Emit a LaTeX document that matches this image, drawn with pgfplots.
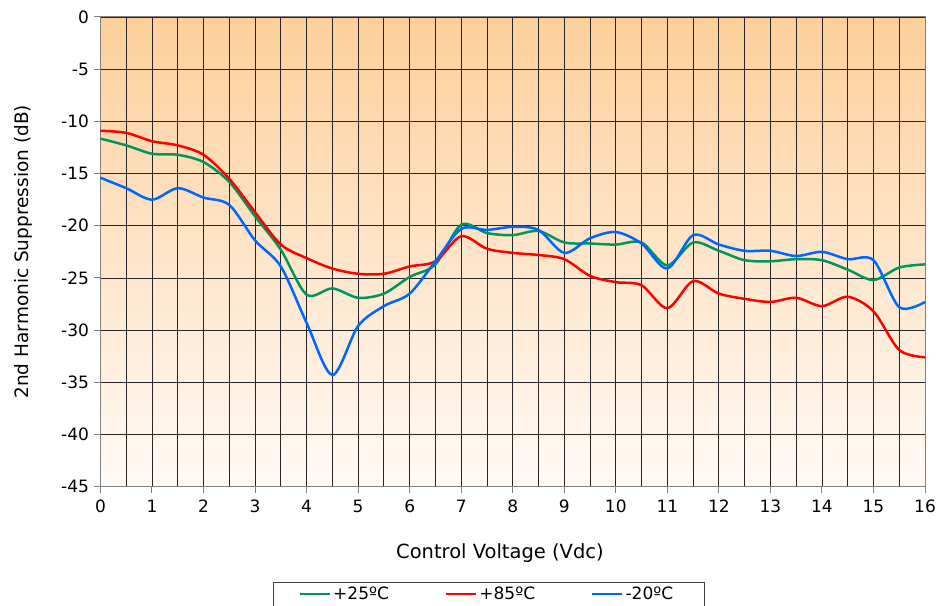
\documentclass[border=0pt]{standalone}
\usepackage{fontspec}
\setmainfont{DejaVu Sans}
\usepackage{pgfplots}
\pgfplotsset{compat=1.18}
\definecolor{cgreen}{RGB}{0,150,90}
\definecolor{cred}{RGB}{255,0,0}
\definecolor{cblue}{RGB}{0,102,255}
\definecolor{bgtop}{RGB}{253,207,155}
\definecolor{bgbot}{RGB}{255,250,246}
\newcommand{\fs}{\fontsize{17}{20}\selectfont}
\pgfplotstableread{
x y
0 -11.65
0.5 -12.3
1 -13.1
1.5 -13.2
2 -13.9
2.5 -15.8
3 -19.1
3.5 -22.3
4 -26.6
4.5 -26.0
5 -26.9
5.5 -26.5
6 -24.9
6.5 -23.7
7 -19.9
7.5 -20.7
8 -20.9
8.5 -20.5
9 -21.6
9.5 -21.7
10 -21.8
10.5 -21.6
11 -23.8
11.5 -21.6
12 -22.4
12.5 -23.3
13 -23.4
13.5 -23.2
14 -23.3
14.5 -24.2
15 -25.2
15.5 -24.0
16 -23.7
}\tgreen
\pgfplotstableread{
x y
0 -10.9
0.5 -11.1
1 -11.9
1.5 -12.3
2 -13.2
2.5 -15.5
3 -18.7
3.5 -21.8
4 -23.1
4.5 -24.1
5 -24.6
5.5 -24.6
6 -23.9
6.5 -23.4
7 -21.0
7.5 -22.2
8 -22.6
8.5 -22.8
9 -23.2
9.5 -24.8
10 -25.4
10.5 -25.7
11 -27.9
11.5 -25.3
12 -26.5
12.5 -27.0
13 -27.3
13.5 -26.9
14 -27.7
14.5 -26.8
15 -28.2
15.5 -31.9
16 -32.6
}\tred
\pgfplotstableread{
x y
0 -15.4
0.5 -16.4
1 -17.5
1.5 -16.4
2 -17.3
2.5 -18.0
3 -21.4
3.5 -23.9
4 -29.3
4.5 -34.3
5 -29.6
5.5 -27.7
6 -26.5
6.5 -23.4
7 -20.3
7.5 -20.4
8 -20.1
8.5 -20.4
9 -22.6
9.5 -21.2
10 -20.6
10.5 -21.7
11 -24.1
11.5 -20.9
12 -21.8
12.5 -22.4
13 -22.4
13.5 -22.9
14 -22.5
14.5 -23.2
15 -23.3
15.5 -27.8
16 -27.3
}\tblue
\begin{document}
\begin{tikzpicture}
\begin{axis}[
  name=ax,
  scale only axis,
  width=825pt, height=470pt,
  xmin=0, xmax=16, ymin=-45, ymax=0,
  xtick={0,1,...,16},
  ytick={-45,-40,...,0},
  minor x tick num=1,
  minor tick length=0pt,
  xmajorgrids, xminorgrids, ymajorgrids,
  grid style={black!85, line width=0.8pt},
  minor grid style={black!85, line width=0.8pt},
  axis line style={draw=black!50, line width=1pt},
  tick align=outside,
  major tick length=6pt,
  tick style={draw=black!50, line width=1pt},
  xtick pos=bottom, ytick pos=left,
  /pgf/number format/assume math mode=true,
  tick label style={font=\fs},
  xticklabel style={yshift=-4pt},
  yticklabel style={xshift=-2pt},
  xlabel={Control Voltage (Vdc)},
  ylabel={2nd Harmonic Suppression (dB)},
  every axis x label/.style={at={(axis description cs:0.4845,-0.1404)}, anchor=center, font=\fontsize{19.5}{22}\selectfont},
  every axis y label/.style={at={(axis description cs:-0.0933,0.5)}, anchor=center, rotate=90, font=\fontsize{18.5}{22}\selectfont},
  axis background/.style={top color=bgtop, bottom color=bgbot},
  legend columns=3,
  legend style={at={(axis description cs:0.2097,-0.2021)}, anchor=north west,
    draw=black!75, line width=0.8pt, font=\fs, inner xsep=25pt, inner ysep=3pt,
    /tikz/every even column/.append style={column sep=54pt}},
  legend image code/.code={\draw[#1, line width=2.5pt] (0pt,0pt) -- (30pt,0pt);},
]
\addplot[cgreen, line width=2.5pt, smooth] table {\tgreen};
\addlegendentry{+25ºC}
\addplot[cred, line width=2.5pt, smooth] table {\tred};
\addlegendentry{+85ºC}
\addplot[cblue, line width=2.5pt, smooth] table {\tblue};
\addlegendentry{-20ºC\hspace*{4pt}}
\end{axis}
\pgfresetboundingbox
\useasboundingbox ([xshift=-100.5pt,yshift=-119pt]ax.south west) rectangle ([xshift=16pt,yshift=17pt]ax.north east);
\end{tikzpicture}
\end{document}
